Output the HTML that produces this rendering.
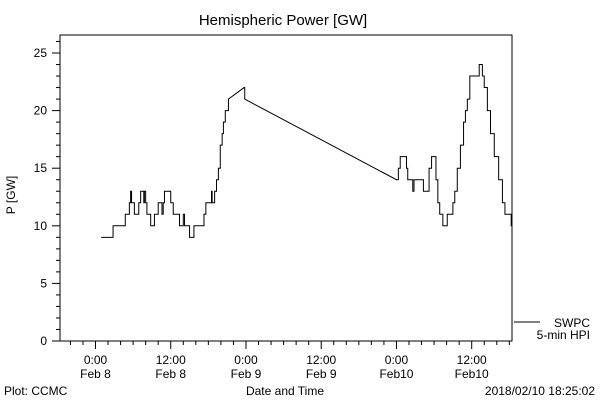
<!DOCTYPE html>
<html><head><meta charset="utf-8"><style>
body{margin:0;background:#fff;}
svg{display:block;font-family:"Liberation Sans",sans-serif;}
</style></head><body>
<svg id="chart" width="600" height="400">
<text x="283" y="25" text-anchor="middle" font-size="15">Hemispheric Power [GW]</text>
<text transform="translate(15,195) rotate(-90)" text-anchor="middle" font-size="12">P [GW]</text>
<text x="285" y="395" text-anchor="middle" font-size="12">Date and Time</text>
<text x="4" y="395" font-size="12">Plot: CCMC</text>
<text x="595" y="395" text-anchor="end" font-size="12">2018/02/10 18:25:02</text>
<rect x="60" y="35" width="452" height="306" fill="none" stroke="#000" stroke-width="1"/>
<line x1="514" y1="322" x2="540" y2="322" stroke="#000"/>
<text x="590" y="327" text-anchor="end" font-size="12">SWPC</text>
<text x="590" y="339" text-anchor="end" font-size="12">5-min HPI</text>
<g id="axes"></g>
<path id="series" fill="none" stroke="#000" stroke-width="1"/>
</svg>
<script>
const hours=[0.9,2.8,4.75,5.4,5.6,5.75,6.2,6.9,7.2,7.7,7.8,8.0,8.2,8.8,9.4,10.0,10.6,10.8,11.0,12.0,12.4,13.4,14.0,14.2,15.0,15.7,17.3,17.6,18.5,18.6,19.0,19.3,19.6,19.9,20.2,20.4,20.7,21.2,23.7,23.8,48.0,48.3,48.6,49.6,49.8,50.6,50.8,52.3,53.2,53.6,54.3,54.6,54.9,55.4,56.1,57.0,57.3,57.7,58.2,58.7,59.0,59.3,59.7,61.2,61.7,62.0,62.5,63.0,63.6,64.3,64.9,65.3,66.3,66.4];
const values=[9,10,11,12,13,12,11,12,13,12,13,12,11,10,11,12,11,12,13,12,11,10,11,10,9,10,11,12,13,12,13,14,15,17,18,19,20,21,22,21,14,15,16,15,14,13,14,13,15,16,14,12,11,10,11,12,13,15,17,19,20,21,23,24,23,22,20,18,16,14,12,11,10,10];
const yTicks=[0,5,10,15,20,25];
const xTickHours=[0,12,24,36,48,60];
const xTickTimes=["0:00","12:00","0:00","12:00","0:00","12:00"];
const xTickDates=["Feb 8","Feb 8","Feb 9","Feb 9","Feb10","Feb10"];
const NS="http://www.w3.org/2000/svg";
const X=h=>95.5+h*6.27;
const Y=v=>341-v*11.52;
const g=document.getElementById('axes');
function ln(x1,y1,x2,y2){const l=document.createElementNS(NS,'line');l.setAttribute('x1',x1);l.setAttribute('y1',y1);l.setAttribute('x2',x2);l.setAttribute('y2',y2);l.setAttribute('stroke','#000');g.appendChild(l);return l;}
function tx(x,y,s,a){const t=document.createElementNS(NS,'text');t.setAttribute('x',x);t.setAttribute('y',y);t.setAttribute('text-anchor',a);t.setAttribute('font-size','12');t.textContent=s;g.appendChild(t);return t;}
for(let v=0;v<=26;v++){const major=v%5===0;const l=ln(60,Y(v),major?52:56,Y(v));

}
yTicks.forEach(v=>{const t=tx(47,Y(v)+4,String(v),'end');

});
for(let h=-4;X(h)<=512;h+=2){const major=h%12===0;const l=ln(X(h),341,X(h),major?349:345);

}
xTickHours.forEach((h,i)=>{const a=tx(X(h),364,xTickTimes[i],'middle');


const b=tx(X(h),378,xTickDates[i],'middle');

});
let d='M'+X(hours[0])+','+Y(values[0]);
for(let i=1;i<hours.length;i++){
 if(hours[i]-hours[i-1]>2){d+=' L'+X(hours[i])+','+Y(values[i]);}
 else{d+=' L'+X(hours[i])+','+Y(values[i-1])+' L'+X(hours[i])+','+Y(values[i]);}
}
document.getElementById('series').setAttribute('d',d);
</script>
</body></html>
